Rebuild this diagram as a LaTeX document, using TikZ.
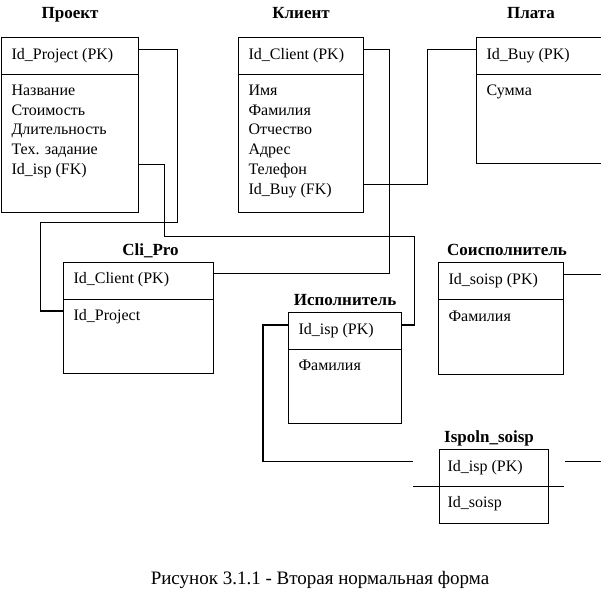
\documentclass[tikz,border=0pt]{standalone}
\usepackage{fontspec}
\setmainfont{Liberation Serif}
\usetikzlibrary{calc}
\begin{document}
\begin{tikzpicture}[x=1pt,y=-1pt,line width=1.1pt,
		tbl/.style={draw,anchor=north west,inner sep=0pt},
		ttl/.style={anchor=base,inner sep=0pt,font=\bfseries\fontsize{17}{20}\selectfont},
		fld/.style={anchor=base west,inner sep=0pt,text height=9pt,font=\fontsize{16}{19}\selectfont}]
	\useasboundingbox (0,0) rectangle (601,613);
	\clip (0,0) rectangle (601,613);
	% tables
	\node[tbl,minimum width=137pt,minimum height=175pt] (proj) at (1,37) {};
	\node[tbl,minimum width=125pt,minimum height=175pt] (kl) at (238,37) {};
	\node[tbl,minimum width=150pt,minimum height=126pt] (plata) at (476,37) {};
	\node[tbl,minimum width=150pt,minimum height=111pt] (clip) at (63,262) {};
	\node[tbl,minimum width=113pt,minimum height=111pt] (isp) at (288,312) {};
	\node[tbl,minimum width=125pt,minimum height=112pt] (sois) at (438,262) {};
	\node[tbl,minimum width=109pt,minimum height=74pt] (isso) at (439,449) {};
	\foreach \t in {proj,kl,plata,clip,isp,sois}
		\draw ($(\t.north west)+(0,37.5)$) -- ($(\t.north east)+(0,37.5)$);
	\draw ($(isso.north west)+(-26,37.5)$) -- ($(isso.north east)+(15,37.5)$);
	% titles
	\node[ttl] (t-proj) at ($(proj.north)+(0,-18.5)$) {Проект};
	\node[ttl] (t-kl) at ($(kl.north)+(0,-18.5)$) {Клиент};
	\node[ttl] (t-plata) at ($(plata.north west)+(55,-18.5)$) {Плата};
	\node[ttl] (t-clip) at ($(clip.north)+(12,-7)$) {Cli\_Pro};
	\node[ttl] (t-isp) at ($(isp.north)+(0,-7)$) {Исполнитель};
	\node[ttl] (t-sois) at ($(sois.north)+(6,-7)$) {Соисполнитель};
	\node[ttl] (t-isso) at ($(isso.north)+(-5,-7)$) {Ispoln\_soisp};
	% fields
	\node[fld] (proj-pk) at ($(proj.north west)+(10,22)$) {Id\_Project (PK)};
	\foreach \f [count=\i] in {Название,Стоимость,Длительность,Тех. задание,Id\_isp (FK)}
		\node[fld] (proj-\i) at ($(proj.north west)+(10,{58.5+(\i-1)*19.7})$) {\f};
	\node[fld] (kl-pk) at ($(kl.north west)+(10,22)$) {Id\_Client (PK)};
	\foreach \f [count=\i] in {Имя,Фамилия,Отчество,Адрес,Телефон,Id\_Buy (FK)}
		\node[fld] (kl-\i) at ($(kl.north west)+(10,{58.5+(\i-1)*19.7})$) {\f};
	\node[fld] (plata-pk) at ($(plata.north west)+(10,22)$) {Id\_Buy (PK)};
	\node[fld] (plata-1) at ($(plata.north west)+(10,58.5)$) {Сумма};
	\node[fld] (clip-pk) at ($(clip.north west)+(10,21)$) {Id\_Client (PK)};
	\node[fld] (clip-1) at ($(clip.north west)+(10,58.5)$) {Id\_Project};
	\node[fld] (isp-pk) at ($(isp.north west)+(10,22.5)$) {Id\_isp (PK)};
	\node[fld] (isp-1) at ($(isp.north west)+(10,58.5)$) {Фамилия};
	\node[fld] (sois-pk) at ($(sois.north west)+(10,22)$) {Id\_soisp (PK)};
	\node[fld] (sois-1) at ($(sois.north west)+(10,59)$) {Фамилия};
	\node[fld] (isso-pk) at ($(isso.north west)+(8,22)$) {Id\_isp (PK)};
	\node[fld] (isso-1) at ($(isso.north west)+(8,58)$) {Id\_soisp};
	% links
	\coordinate (edge) at (601,0);
	\coordinate (isso-in) at ($(isso-pk.north -| isso.west)+(-26,0)$);
	\coordinate (isso-out) at ($(isso-pk.north -| isso.east)+(16,0)$);
	\draw (proj-pk.north -| proj.east) -- ++(38,0) -- ++(0,173) -- ++(-137,0) |- (clip-1.north -| clip.west);
	\draw (proj-5.north -| proj.east) -- ++(25,0) -- ++(0,72) -| ($(isp-pk.north -| isp.east)+(12,0)$) -- (isp-pk.north -| isp.east);
	\draw (kl-pk.north -| kl.east) -- ++(25,0) |- (clip-pk.north -| clip.east);
	\draw (kl-6.north -| kl.east) -- ++(63,0) |- (plata-pk.north -| plata.west);
	\draw (isp-pk.north -| isp.west) -- ++(-25,0) |- (isso-in);
	\draw (sois-pk.north -| sois.east) -- (sois-pk.north -| edge);
	\draw (isso-out) -- (isso-out -| edge);
	% caption
	\node[anchor=base,inner sep=0pt,font=\fontsize{19}{22}\selectfont] (cap) at (320,584) {Рисунок 3.1.1 - Вторая нормальная форма};
\end{tikzpicture}
\end{document}
